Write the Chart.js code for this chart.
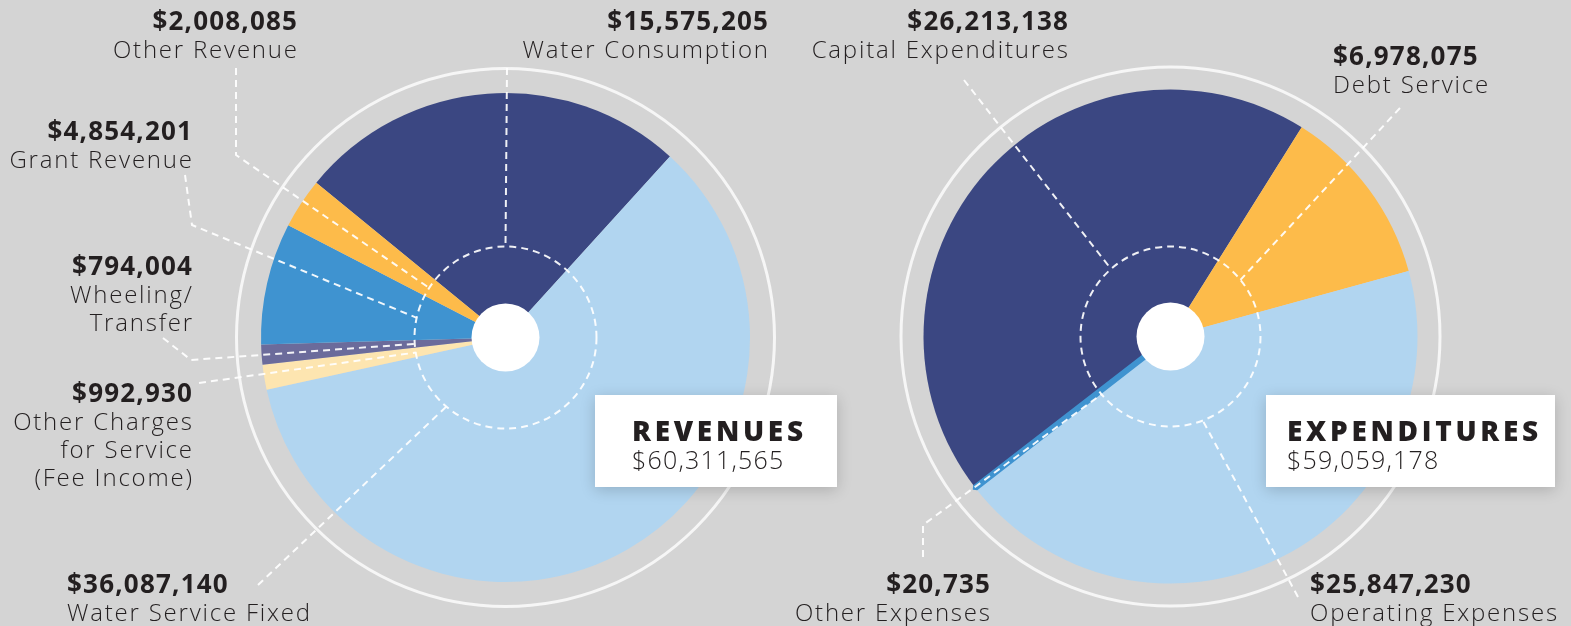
<!DOCTYPE html>
<html>
<head>
<meta charset="utf-8">
<script src="https://cdn.jsdelivr.net/npm/chart.js@4.4.1/dist/chart.umd.min.js"></script>
<style>
  html, body { margin:0; padding:0; background:#D4D4D4; width:1571px; height:626px; overflow:hidden; }
  #wrap { position:relative; width:1571px; height:626px; }
  canvas { position:absolute; top:0; }
  .lbl { position:absolute; color:#231F20; font-family:"Open Sans", sans-serif; white-space:nowrap; }
  .lbl .v { font-weight:700; font-size:26px; line-height:30px; letter-spacing:1.2px; }
  .lbl .n { font-weight:300; font-size:24px; line-height:28px; letter-spacing:1.8px; }
  .lbl.r .n { margin-right:-1.8px; }
  .lbl.r .v { margin-right:-1.2px; }
  .box { position:absolute; background:#fff; box-shadow:0 3px 14px rgba(0,0,0,0.18); color:#231F20; font-family:"Open Sans", sans-serif; }
  .box .t { position:absolute; font-weight:800; font-size:28px; letter-spacing:3.7px; line-height:30px; }
  .box .s { position:absolute; font-weight:300; font-size:25px; line-height:28px; letter-spacing:1.2px; }
</style>
</head>
<body>
<div id="wrap">
  <canvas id="rev" width="785" height="626" style="left:0px"></canvas>
  <canvas id="exp" width="786" height="626" style="left:785px"></canvas>
</div>
<script>
// ---------- DATA ----------
const revCategories = ['Water Consumption', 'Water Service Fixed', 'Other Charges for Service (Fee Income)', 'Wheeling/Transfer', 'Grant Revenue', 'Other Revenue'];
const revDisplayNames = ['Water Consumption', 'Water Service Fixed', 'Other Charges\nfor Service\n(Fee Income)', 'Wheeling/\nTransfer', 'Grant Revenue', 'Other Revenue'];
const revValues = [15575205, 36087140, 992930, 794004, 4854201, 2008085];
const revColors = ['#3B4782', '#B1D5F0', '#FDE5B0', '#6B6B9B', '#3F93D0', '#FDBB4A'];

const expCategories = ['Capital Expenditures', 'Debt Service', 'Operating Expenses', 'Other Expenses'];
const expValues = [26213138, 6978075, 25847230, 20735];
const expColors = ['#3B4782', '#FDBB4A', '#B1D5F0', '#3F93D0'];

const revTitle = 'REVENUES';
const expTitle = 'EXPENDITURES';

// ---------- LAYOUT (label anchors, leader paths in page px, end angle on inner dashed circle) ----------
const revLayout = [
  { align:'right', x:768, y:20, path:[[507,68]], angle:0 },
  { align:'left',  x:67,  y:583, path:[[258,585]], angle:220.6 },
  { align:'right', x:192, y:392, path:[[199,383]], angle:260.5 },
  { align:'right', x:192, y:265, path:[[163,338],[191,360]], angle:266 },
  { align:'right', x:192, y:130, path:[[185,175],[192,225]], angle:282.5 },
  { align:'right', x:297, y:20, path:[[236,68],[236,155]], angle:303 }
];
const expLayout = [
  { align:'right', x:1068, y:20, path:[[964,80]], angle:318.6 },
  { align:'left',  x:1333, y:55, path:[[1400,108]], angle:51 },
  { align:'left',  x:1310, y:583, path:[[1298,597]], angle:159 },
  { align:'right', x:990, y:583, path:[[923,557],[923,525]], angle:230 }
];

const fmt = v => '$' + v.toLocaleString('en-US');
const sum = a => a.reduce((p, c) => p + c, 0);

function decoPlugin(offsetX, layout, innerR, ringR, holeR) {
  return {
    id: 'deco',
    afterDatasetsDraw(chart) {
      const ctx = chart.ctx;
      const arc = chart.getDatasetMeta(0).data[0];
      const cx = arc.x, cy = arc.y;
      ctx.save();
      ctx.beginPath();
      ctx.arc(cx, cy, ringR, 0, Math.PI * 2);
      ctx.strokeStyle = '#F6F6F6';
      ctx.lineWidth = 3;
      ctx.stroke();
      ctx.beginPath();
      ctx.setLineDash([7, 5]);
      ctx.arc(cx, cy, innerR, 0, Math.PI * 2);
      ctx.strokeStyle = 'rgba(255,255,255,0.92)';
      ctx.lineWidth = 2;
      ctx.stroke();
      layout.forEach(l => {
        ctx.beginPath();
        l.path.forEach((p, i) => {
          const x = p[0] - offsetX, y = p[1];
          if (i === 0) ctx.moveTo(x, y); else ctx.lineTo(x, y);
        });
        const a = l.angle * Math.PI / 180;
        ctx.lineTo(cx + innerR * Math.sin(a), cy - innerR * Math.cos(a));
        ctx.stroke();
      });
      ctx.setLineDash([]);
      ctx.beginPath();
      ctx.arc(cx, cy, holeR, 0, Math.PI * 2);
      ctx.fillStyle = '#FFFFFF';
      ctx.fill();
      ctx.restore();
    }
  };
}

function makePie(id, labels, values, colors, rotation, radius, padding, plugin, borderFn) {
  return new Chart(document.getElementById(id), {
    type: 'pie',
    data: {
      labels: labels,
      datasets: [{
        data: values,
        backgroundColor: colors,
        borderColor: colors,
        borderWidth: borderFn,
        hoverOffset: 0
      }]
    },
    options: {
      responsive: false,
      animation: false,
      devicePixelRatio: 1,
      rotation: rotation,
      radius: radius,
      layout: { padding: padding },
      events: [],
      plugins: { legend: { display: false }, tooltip: { enabled: false } }
    },
    plugins: [plugin]
  });
}

makePie('rev', revCategories, revValues, revColors, -50.7, 244.5,
  { left:261, right:35, top:93, bottom:44 },
  decoPlugin(0, revLayout, 91, 269, 34), () => 0);

makePie('exp', expCategories, expValues, expColors, -127.7, 247,
  { left:139, right:154, top:89, bottom:42 },
  decoPlugin(785, expLayout, 90, 269.5, 34),
  c => (c.dataIndex === 3 ? 6 : 0));

// ---------- TEXT ----------
const wrap = document.getElementById('wrap');
function addLabel(l, value, name) {
  const d = document.createElement('div');
  d.className = 'lbl' + (l.align === 'right' ? ' r' : '');
  d.style.textAlign = l.align;
  d.style.top = (l.y - 15) + 'px';
  if (l.align === 'right') d.style.right = (1571 - l.x) + 'px';
  else d.style.left = l.x + 'px';
  const v = document.createElement('div'); v.className = 'v'; v.textContent = fmt(value); d.appendChild(v);
  name.split('\n').forEach(t => { const n = document.createElement('div'); n.className = 'n'; n.textContent = t; d.appendChild(n); });
  wrap.appendChild(d);
}
revValues.forEach((v, i) => addLabel(revLayout[i], v, revDisplayNames[i]));
expValues.forEach((v, i) => addLabel(expLayout[i], v, expCategories[i]));

function addBox(x, y, w, h, title, total, pad) {
  const b = document.createElement('div');
  b.className = 'box';
  Object.assign(b.style, { left:x+'px', top:y+'px', width:w+'px', height:h+'px' });
  const t = document.createElement('div'); t.className = 't'; t.textContent = title;
  Object.assign(t.style, { left:pad+'px', top:'20px' });
  const s = document.createElement('div'); s.className = 's'; s.textContent = fmt(total);
  Object.assign(s.style, { left:pad+'px', top:'50px' });
  b.appendChild(t); b.appendChild(s);
  wrap.appendChild(b);
}
addBox(595, 395, 242, 92, revTitle, sum(revValues), 37);
addBox(1266, 395, 289, 92, expTitle, sum(expValues), 21);
</script>
</body>
</html>
